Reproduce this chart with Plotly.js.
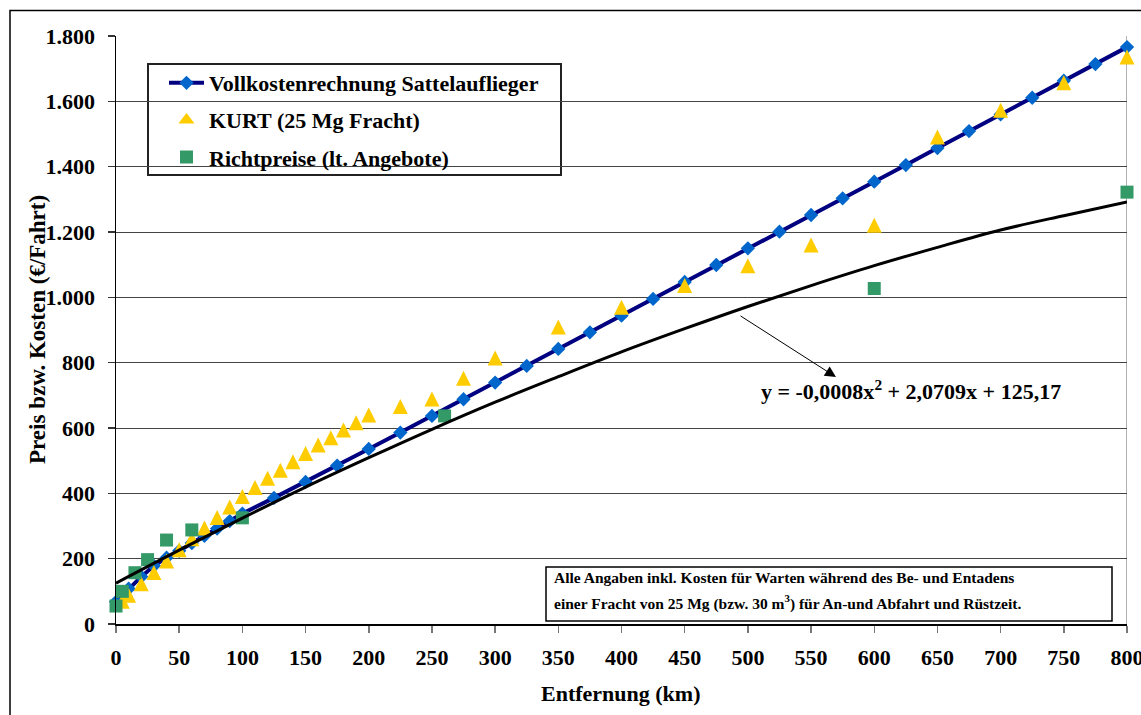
<!DOCTYPE html>
<html><head><meta charset="utf-8">
<script src="https://cdn.plot.ly/plotly-3.0.1.min.js"></script>
<style>html,body{margin:0;padding:0;background:#fff}#chart{width:1141px;height:715px}</style>
</head><body><div id="chart"></div>
<script>
// ---- data ----
const vollName = 'Vollkostenrechnung Sattelauflieger';
const vollKm = [0,10,20,30,40,50,60,70,80,90,100,125,150,175,200,225,250,275,300,325,350,375,400,425,450,475,500,525,550,575,600,625,650,675,700,725,750,775,800];
const vollCost = [68,108,145,178,203,224,248,270,292,315,338,386,435,485,536,586,637,688,739,790,842,893,944,995,1047,1099,1150,1201,1252,1303,1354,1405,1457,1509,1560,1611,1663,1714,1766];

const kurtName = 'KURT (25 Mg Fracht)';
const kurtKm = [5,10,20,30,40,50,60,70,80,90,100,110,120,130,140,150,160,170,180,190,200,225,250,275,300,350,400,450,500,550,600,650,700,750,800];
const kurtCost = [70,88,123,158,193,227,261,294,326,358,390,418,446,471,497,522,548,570,594,616,640,666,689,752,814,909,970,1036,1097,1160,1221,1491,1573,1657,1736];

const richtName = 'Richtpreise (lt. Angebote)';
const richtKm = [0,5,15,25,40,60,100,260,600,800];
const richtCost = [55,100,157,197,257,288,325,637,1027,1322];

// trend curve
const trendKm = [0,50,100,150,200,250,300,350,400,450,500,550,600,650,700,750,800];
const trendCost = [125,226,324,419,509,596,679,757,833,904,972,1036,1097,1153,1206,1250,1292];

const xTicks = [0,50,100,150,200,250,300,350,400,450,500,550,600,650,700,750,800];
const yTicks = [0,200,400,600,800,1000,1200,1400,1600,1800];

const equationText = 'y = -0,0008x<sup>2</sup> + 2,0709x + 125,17';
const noteLine1 = 'Alle Angaben inkl. Kosten für Warten während des Be- und Entadens';
const noteLine2 = 'einer Fracht von 25 Mg (bzw. 30 m<sup>3</sup>) für An-und Abfahrt und Rüstzeit.';
const xTitle = 'Entfernung (km)';
const yTitle = 'Preis bzw. Kosten (€/Fahrt)';

// ---- chart ----
const FAM = '"Liberation Serif", "Times New Roman", Times, serif';
const F = (size) => ({family: FAM, size: size, color: '#000', weight: 'bold'});

const triColor = '#FFCC00';
const traces = [
  {x: vollKm, y: vollCost, name: vollName, type: 'scatter', mode: 'lines+markers',
   legendgroup: 'a', legendrank: 1, cliponaxis: false,
   line: {color: '#000080', width: 4},
   marker: {symbol: 'diamond', size: 11, color: '#0066CC', line: {width: 0}}},
  {x: kurtKm, y: kurtCost, name: kurtName, type: 'scatter', mode: 'markers',
   legendgroup: 'b', showlegend: false, cliponaxis: false,
   marker: {symbol: 'arrow-down', angle: 180, standoff: 7.5, size: 15, color: triColor, line: {width: 0}}},
  // legend entry for the KURT series (same name / colour)
  {x: [null], y: [null], name: kurtName, type: 'scatter', mode: 'markers',
   legendgroup: 'b', legendrank: 2, hoverinfo: 'skip',
   marker: {symbol: 'triangle-up', size: 14, color: triColor, line: {width: 0}}},
  {x: richtKm, y: richtCost, name: richtName, type: 'scatter', mode: 'markers',
   legendgroup: 'c', legendrank: 3, cliponaxis: false,
   marker: {symbol: 'square', size: 13, color: '#339966', line: {width: 0}}},
  {x: trendKm, y: trendCost, name: 'Trend', type: 'scatter', mode: 'lines',
   showlegend: false, hoverinfo: 'skip',
   line: {color: '#000', width: 3, shape: 'spline', smoothing: 1}}
];

const L = 116, R = 1127, T = 36, B = 624;
const px2paperX = (p) => (p - L) / (R - L);
const px2paperY = (p) => (B - p) / (B - T);

const layout = {
  width: 1141, height: 715,
  margin: {l: L, r: 1141 - R, t: T, b: 715 - B, pad: 0},
  paper_bgcolor: '#fff', plot_bgcolor: '#fff',
  separators: ',.',
  font: F(22),
  showlegend: true,
  legend: {x: px2paperX(164), y: px2paperY(62), xanchor: 'left', yanchor: 'top',
           bgcolor: 'rgba(0,0,0,0)', borderwidth: 0,
           font: F(22), tracegroupgap: 5.5, itemwidth: 35},
  xaxis: {range: [0, 800], tickvals: xTicks, ticktext: xTicks.map(String),
          ticks: 'outside', ticklen: 7, tickwidth: 1.5, tickcolor: '#777',
          showline: true, linecolor: '#000', linewidth: 1.5, ticklabeloverflow: 'allow',
          showgrid: false, zeroline: false, tickfont: F(22), ticklabelstandoff: 6},
  yaxis: {range: [0, 1800], tickvals: yTicks, tickformat: ',d',
          ticks: 'outside', ticklen: 7, tickwidth: 1.5, tickcolor: '#333',
          showline: true, linecolor: '#000', linewidth: 1.5,
          showgrid: true, gridcolor: '#444', gridwidth: 1,
          zeroline: false, tickfont: F(22), ticklabelstandoff: 8},
  shapes: [
    {type: 'line', xref: 'x', yref: 'y', x0: 800, x1: 800, y0: 0, y1: 1800,
     line: {color: '#999', width: 1.5}, layer: 'below'},
    {type: 'rect', xref: 'paper', yref: 'paper',
     x0: px2paperX(10), x1: px2paperX(1170), y0: px2paperY(740), y1: px2paperY(10.5),
     line: {color: '#000', width: 1.5}, fillcolor: 'rgba(0,0,0,0)', layer: 'above'},
    // legend frame
    {type: 'rect', xref: 'paper', yref: 'paper',
     x0: px2paperX(148), x1: px2paperX(561), y0: px2paperY(175), y1: px2paperY(64),
     line: {color: '#222', width: 2}, fillcolor: '#fff', layer: 'between'},
    // note frame
    {type: 'rect', xref: 'paper', yref: 'paper',
     x0: px2paperX(546), x1: px2paperX(1112), y0: px2paperY(621), y1: px2paperY(567),
     line: {color: '#000', width: 1.5}, fillcolor: '#fff', layer: 'above'}
  ],
  annotations: [
    {xref: 'paper', yref: 'paper', x: px2paperX(552), y: px2paperY(577),
     xanchor: 'left', yanchor: 'middle', showarrow: false, text: noteLine1, font: F(15.5)},
    {xref: 'paper', yref: 'paper', x: px2paperX(552), y: px2paperY(602),
     xanchor: 'left', yanchor: 'middle', showarrow: false, text: noteLine2, font: F(15.5)},
    {xref: 'x', yref: 'y', x: 629, y: 716, showarrow: false, text: equationText, font: F(22),
     xanchor: 'center', yanchor: 'middle'},
    {xref: 'x', yref: 'y', x: 569.7, y: 756, axref: 'x', ayref: 'y', ax: 493, ay: 946,
     text: '', showarrow: true, arrowhead: 2, arrowsize: 2.2, arrowwidth: 1, arrowcolor: '#000', standoff: 0},
    {xref: 'paper', yref: 'paper', x: px2paperX(37), y: px2paperY(330), textangle: -90,
     xanchor: 'center', yanchor: 'middle', showarrow: false, text: yTitle, font: F(23)},
    {xref: 'paper', yref: 'paper', x: px2paperX(621), y: px2paperY(693),
     xanchor: 'center', yanchor: 'middle', showarrow: false, text: xTitle, font: F(22)}
  ]
};

Plotly.newPlot('chart', traces, layout, {displayModeBar: false, staticPlot: true});
</script>
</body></html>
